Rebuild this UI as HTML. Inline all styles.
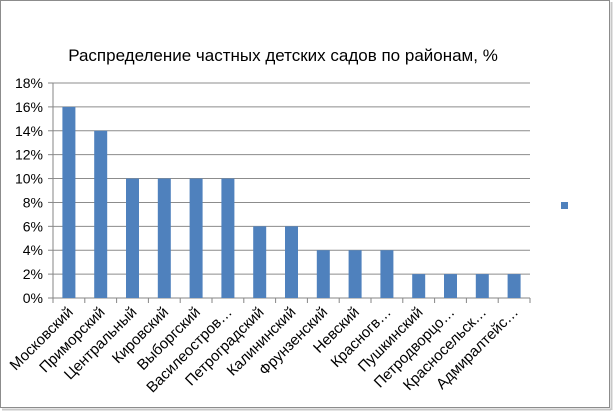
<!DOCTYPE html>
<html><head><meta charset="utf-8"><style>
body{margin:0;background:#fff}
svg{display:block;font-family:"Liberation Sans","DejaVu Sans",sans-serif}
</style></head><body>
<svg id="c" width="613" height="411">
<rect x="0.5" y="0.5" width="609" height="407" fill="#fff" stroke="#8c8c8c"/>
<line x1="2" y1="409.5" x2="611" y2="409.5" stroke="#c8c8c8" stroke-width="2"/>
<line x1="611.5" y1="2" x2="611.5" y2="410" stroke="#c8c8c8" stroke-width="2"/>
<text x="283" y="61" text-anchor="middle" font-size="17" fill="#000">Распределение частных детских садов по районам, %</text>
<rect x="561" y="202" width="7" height="7" fill="#4f81bd"/>
<g id="g"></g>
</svg>
<script>
const categories=["Московский","Приморский","Центральный","Кировский","Выборгский","Василеостров…","Петроградский","Калининский","Фрунзенский","Невский","Красногв…","Пушкинский","Петродворцо…","Красносельск…","Адмиралтейс…"];
const values=[16,14,10,10,10,10,6,6,4,4,4,2,2,2,2];
const ticks=[0,2,4,6,8,10,12,14,16,18];
const g=document.getElementById('g');const NS="http://www.w3.org/2000/svg";
const x0=53,x1=530,y0=298,y18=83;
const y=v=>y0-(v/18)*(y0-y18);
const bw=(x1-x0)/categories.length;
function mk(t,a,p){const e=document.createElementNS(NS,t);for(const k in a)e.setAttribute(k,a[k]);(p||g).appendChild(e);return e;}
ticks.forEach(t=>{
 if(t>0){const l=mk('line',{x1:x0,x2:x1,y1:y(t),y2:y(t),stroke:'#8c8c8c','stroke-width':1});
 
 }
 mk('line',{x1:x0-5,x2:x0,y1:y(t),y2:y(t),stroke:'#868686'});
 const tx=mk('text',{x:x0-10,y:y(t)+5,'text-anchor':'end','font-size':14,fill:'#000'});
 tx.textContent=t+'%';
 
 
});
mk('line',{x1:x0,x2:x0,y1:y18,y2:y0,stroke:'#868686'});
mk('line',{x1:x0,x2:x1,y1:y0,y2:y0,stroke:'#868686'});
categories.forEach((c,i)=>{
 const cx=x0+bw*(i+0.5);
 mk('line',{x1:x0+bw*(i+1),x2:x0+bw*(i+1),y1:y0,y2:y0+5,stroke:'#868686'});
 if(i===0)mk('line',{x1:x0,x2:x0,y1:y0,y2:y0+5,stroke:'#868686'});
 const r=mk('rect',{x:cx-6.5,y:y(values[i]),width:13,height:y0-y(values[i]),fill:'#4f81bd'});
 
 
 const t=mk('text',{x:cx+5,y:y0+15,'text-anchor':'end','font-size':15,fill:'#000',transform:`rotate(-45 ${cx+5} ${y0+15})`});
 t.textContent=c;
 
 
});
</script>
</body></html>
